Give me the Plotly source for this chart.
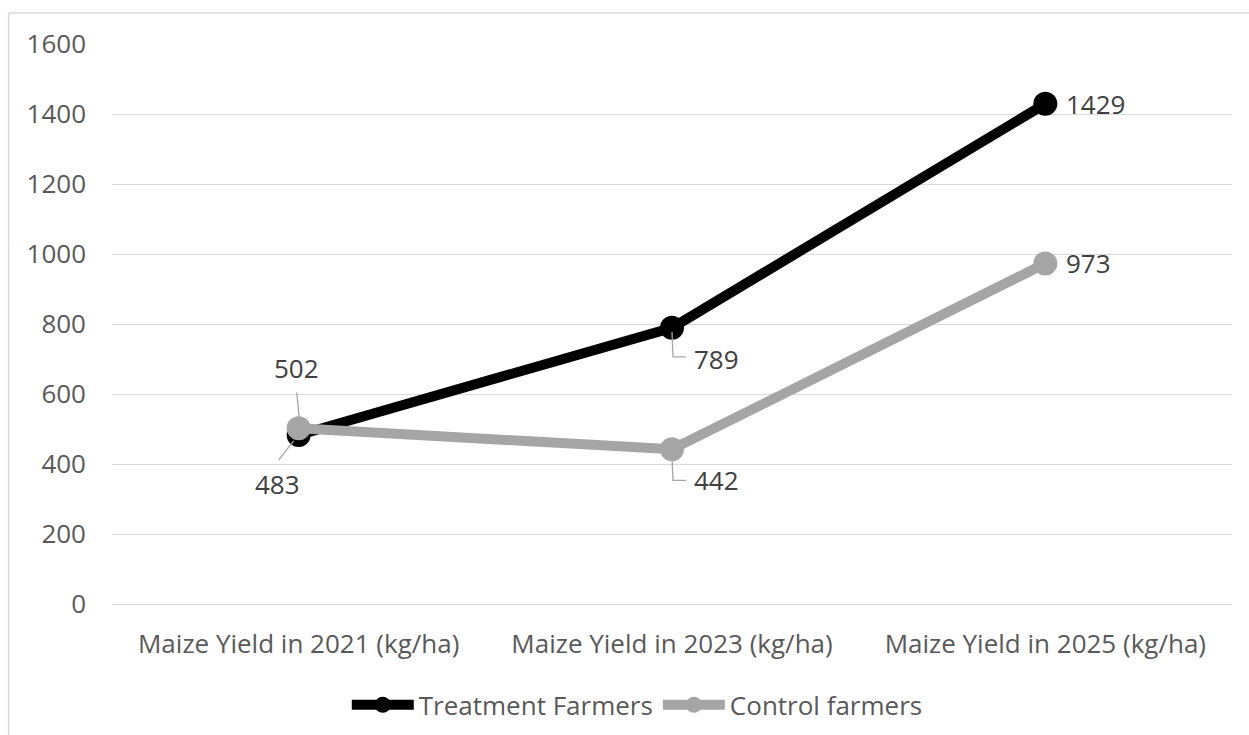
import plotly.graph_objects as go

categories = ["Maize Yield in 2021 (kg/ha)", "Maize Yield in 2023 (kg/ha)", "Maize Yield in 2025 (kg/ha)"]
treatment = [483, 789, 1429]
control = [502, 442, 973]
y_ticks = [0, 200, 400, 600, 800, 1000, 1200, 1400, 1600]

FONT = "Open Sans"
FS = 26
TICK_COLOR = "#595959"
LABEL_COLOR = "#404040"
BLACK = "#000000"
GRAY = "#A5A5A5"

fig = go.Figure()
fig.add_trace(go.Scatter(
    x=categories, y=treatment, name="Treatment Farmers", mode="lines+markers",
    line=dict(color=BLACK, width=10), marker=dict(color=BLACK, size=24),
))
fig.add_trace(go.Scatter(
    x=categories, y=control, name="Control farmers", mode="lines+markers",
    line=dict(color=GRAY, width=10), marker=dict(color=GRAY, size=24),
))

# data labels: (category index, value, xshift, yshift, xanchor, leader path in pixels)
label_specs = [
    (0, treatment[0], -21, -49, "center", "M-20,-25 L-5,-6"),
    (1, treatment[1], 20, -31, "left", "M0,-4 L1,-29 L14,-29"),
    (2, treatment[2], 19, 0, "left", None),
    (0, control[0], -2, 60, "center", "M-2,36 L1,6"),
    (1, control[1], 20, -31, "left", "M0,-9 L1,-31 L14,-31"),
    (2, control[2], 19, 0, "left", None),
]
for idx, val, xs, ys, xa, path in label_specs:
    fig.add_annotation(
        x=categories[idx], y=val, text=str(val), showarrow=False,
        xshift=xs, yshift=ys, xanchor=xa, yanchor="middle",
        font=dict(family=FONT, size=FS, color=LABEL_COLOR),
    )
    if path:
        fig.add_shape(
            type="path", xref="x", yref="y", xsizemode="pixel", ysizemode="pixel",
            xanchor=categories[idx], yanchor=val, path=path,
            line=dict(color="#A6A6A6", width=1.3),
        )

# outer chart border (only top and left visible in the frame)
fig.add_shape(type="line", xref="paper", yref="paper", x0=-0.0923, x1=1.1, y0=1.0554, y1=1.0554,
              line=dict(color="#D9D9D9", width=1.5))
fig.add_shape(type="line", xref="paper", yref="paper", x0=-0.0923, x1=-0.0923, y0=1.0554, y1=-0.3,
              line=dict(color="#D9D9D9", width=1.5))

fig.update_layout(
    width=1249, height=735,
    margin=dict(l=112, r=17, t=44, b=131, autoexpand=False),
    paper_bgcolor="white", plot_bgcolor="white",
    font=dict(family=FONT, size=FS, color=TICK_COLOR),
    showlegend=True,
    legend=dict(
        orientation="h", x=0.469, xanchor="center",
        yref="container", y=0.041, yanchor="middle",
        font=dict(family=FONT, size=FS, color=TICK_COLOR),
        itemwidth=62, tracegroupgap=0,
    ),
)
fig.update_xaxes(
    type="category", range=[-0.5, 2.5], showgrid=False, showline=False, zeroline=False,
    ticks="", tickfont=dict(family=FONT, size=FS, color=TICK_COLOR), ticklabelstandoff=22,
)
fig.update_yaxes(
    range=[0, 1600], tickvals=y_ticks, ticktext=[str(v) for v in y_ticks],
    showgrid=True, gridcolor="#D9D9D9", gridwidth=1.3, zeroline=True, zerolinecolor="#D9D9D9",
    zerolinewidth=1.3, showline=False, ticks="",
    tickfont=dict(family=FONT, size=FS, color=TICK_COLOR), ticklabelstandoff=25,
)

fig.write_html("out.html")
